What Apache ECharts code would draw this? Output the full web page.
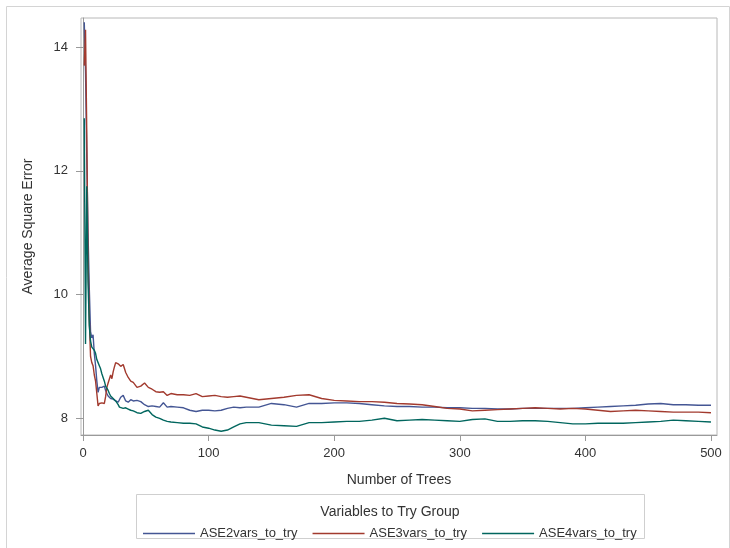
<!DOCTYPE html>
<html>
<head>
<meta charset="utf-8">
<script src="https://cdn.jsdelivr.net/npm/echarts@6/dist/echarts.min.js"></script>
<style>
  html, body { margin: 0; padding: 0; background: #fff; }
  #chart { width: 730px; height: 548px; }
</style>
</head>
<body>
<div id="chart"></div>
<script>
// number of trees (x) shared by the three series
var trees = [1, 2, 3, 4, 5, 6, 7, 8, 9, 10, 11, 12, 13, 14, 15, 16, 17, 18, 19, 20,
  21, 22, 23, 24, 25, 26, 27, 28, 29, 30, 32, 34, 36, 38, 40, 43, 46, 49, 52, 55,
  58, 61, 64, 67, 70, 75, 80, 85, 90, 95, 100, 105, 110, 115, 120, 125, 130, 140, 150, 160,
  170, 180, 190, 200, 210, 220, 230, 240, 250, 260, 270, 280, 290, 300, 310, 320, 330, 340, 350, 360,
  370, 380, 390, 400, 410, 420, 430, 440, 450, 460, 470, 480, 490, 500];

var ase2 = [14.40, 13.60, 12.20, 11.00, 10.10, 9.40, 9.30, 9.35, 9.05, 8.85, 8.60, 8.42, 8.50, 8.52, 8.50, 8.53, 8.52, 8.45, 8.40, 8.36,
  8.34, 8.32, 8.30, 8.31, 8.30, 8.28, 8.27, 8.26, 8.30, 8.34, 8.37, 8.28, 8.26, 8.30, 8.28, 8.29, 8.27, 8.22, 8.19, 8.20,
  8.19, 8.18, 8.25, 8.18, 8.19, 8.18, 8.17, 8.13, 8.11, 8.13, 8.13, 8.12, 8.13, 8.16, 8.18, 8.17, 8.18, 8.18, 8.24, 8.22,
  8.18, 8.24, 8.24, 8.25, 8.25, 8.24, 8.22, 8.20, 8.19, 8.19, 8.18, 8.18, 8.17, 8.17, 8.16, 8.16, 8.15, 8.15, 8.16, 8.16,
  8.16, 8.16, 8.16, 8.17, 8.18, 8.19, 8.20, 8.21, 8.23, 8.24, 8.22, 8.22, 8.21, 8.21];

var ase3 = [13.70, 14.28, 12.60, 10.60, 9.60, 9.00, 8.90, 8.85, 8.70, 8.60, 8.40, 8.20, 8.24, 8.26, 8.25, 8.28, 8.24, 8.35, 8.50, 8.57,
  8.60, 8.70, 8.64, 8.75, 8.83, 8.90, 8.93, 8.88, 8.86, 8.84, 8.87, 8.74, 8.66, 8.60, 8.58, 8.50, 8.52, 8.57, 8.50, 8.47,
  8.43, 8.42, 8.43, 8.37, 8.40, 8.38, 8.38, 8.37, 8.40, 8.35, 8.36, 8.37, 8.35, 8.34, 8.35, 8.36, 8.34, 8.30, 8.32, 8.34,
  8.37, 8.38, 8.32, 8.29, 8.28, 8.27, 8.27, 8.26, 8.24, 8.23, 8.22, 8.19, 8.16, 8.15, 8.12, 8.13, 8.14, 8.15, 8.16, 8.17,
  8.16, 8.15, 8.16, 8.15, 8.13, 8.11, 8.12, 8.13, 8.12, 8.11, 8.10, 8.10, 8.10, 8.09];

var ase4 = [12.85, 9.20, 11.75, 10.20, 9.50, 9.25, 9.15, 9.15, 9.10, 9.05, 8.95, 8.90, 8.85, 8.80, 8.72, 8.66, 8.60, 8.52, 8.50, 8.45,
  8.40, 8.36, 8.34, 8.32, 8.30, 8.28, 8.26, 8.22, 8.18, 8.19, 8.16, 8.17, 8.15, 8.13, 8.12, 8.09, 8.08, 8.11, 8.13, 8.06,
  8.02, 8.00, 7.97, 7.95, 7.94, 7.93, 7.92, 7.92, 7.91, 7.86, 7.84, 7.81, 7.79, 7.81, 7.86, 7.91, 7.93, 7.93, 7.89, 7.88,
  7.87, 7.93, 7.93, 7.94, 7.95, 7.95, 7.97, 8.00, 7.96, 7.97, 7.98, 7.97, 7.96, 7.95, 7.98, 7.99, 7.95, 7.95, 7.96, 7.96,
  7.95, 7.93, 7.91, 7.91, 7.92, 7.92, 7.92, 7.93, 7.94, 7.95, 7.97, 7.96, 7.95, 7.94];

var seriesNames = ['ASE2vars_to_try', 'ASE3vars_to_try', 'ASE4vars_to_try'];
var xTicks = [0, 100, 200, 300, 400, 500];
var yTicks = [8, 10, 12, 14];

function pairs(ys) {
  var out = [];
  for (var i = 0; i < trees.length; i++) out.push([trees[i], ys[i]]);
  return out;
}

var chart = echarts.init(document.getElementById('chart'));
var font = 'Liberation Sans, Arial, sans-serif';
var axisGray = '#9a9a9a';

var option = {
  animation: false,
  color: ['#445694', '#A23A2E', '#01665E'],
  textStyle: { fontFamily: font },
  grid: { left: 81, top: 18, right: 13, bottom: 113, show: true, borderColor: '#b8b8b8', borderWidth: 1 },
  xAxis: {
    type: 'value',
    min: -1.6,
    max: 504.8,
    name: 'Number of Trees',
    nameLocation: 'middle',
    nameGap: 38,
    nameTextStyle: { fontSize: 14, color: '#333', fontFamily: font },
    axisLine: { show: true, lineStyle: { color: axisGray } },
    axisTick: { show: true, length: 6, customValues: xTicks, lineStyle: { color: axisGray } },
    axisLabel: { customValues: xTicks, fontSize: 13, color: '#333', margin: 12, fontFamily: font },
    splitLine: { show: false }
  },
  yAxis: {
    type: 'value',
    min: 7.73,
    max: 14.47,
    name: 'Average Square Error',
    nameLocation: 'middle',
    nameGap: 46,
    nameTextStyle: { fontSize: 14, color: '#333', fontFamily: font },
    axisLine: { show: true, lineStyle: { color: axisGray } },
    axisTick: { show: true, length: 7, customValues: yTicks, lineStyle: { color: axisGray } },
    axisLabel: { customValues: yTicks, fontSize: 13, color: '#333', margin: 13, fontFamily: font },
    splitLine: { show: false }
  },
  legend: {
    data: seriesNames,
    icon: 'rect',
    left: 138,
    top: 522,
    itemWidth: 52,
    itemHeight: 1.4,
    itemGap: 15,
    itemTextGap: 7,
    textStyle: { fontSize: 13, color: '#333', fontFamily: font }
  },
  graphic: [
    { type: 'rect', shape: { x: 6.5, y: 6.5, width: 723, height: 545 }, style: { fill: 'none', stroke: '#d4d4d4', lineWidth: 1 }, silent: true },
    { type: 'rect', shape: { x: 136.5, y: 494.5, width: 508, height: 44 }, style: { fill: 'none', stroke: '#cfcfcf', lineWidth: 1 }, silent: true },
    { type: 'text', x: 390, y: 512, style: { text: 'Variables to Try Group', font: '14px ' + font, fill: '#333', align: 'center', verticalAlign: 'middle' }, silent: true }
  ],
  series: seriesNames.map(function (n, i) {
    return {
      name: n,
      type: 'line',
      symbol: 'none',
      showSymbol: false,
      lineStyle: { width: 1.4 },
      data: pairs([ase2, ase3, ase4][i])
    };
  })
};

chart.setOption(option);
</script>
</body>
</html>
